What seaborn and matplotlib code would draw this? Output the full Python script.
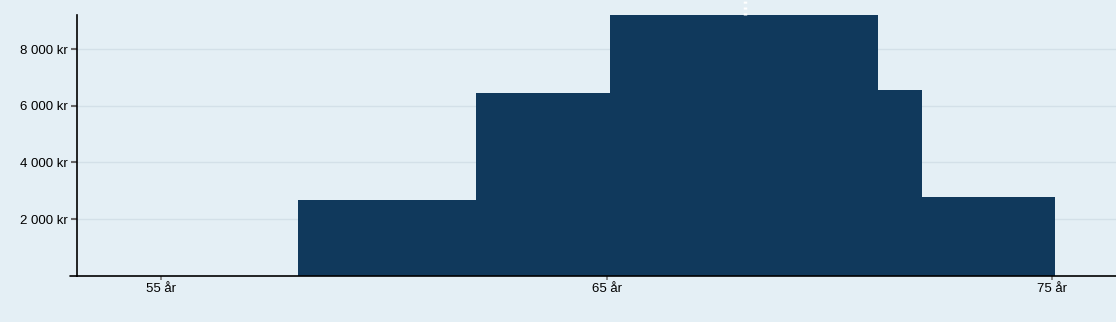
import matplotlib
matplotlib.use("Agg")
import matplotlib.pyplot as plt
import seaborn as sns
import numpy as np
import pandas as pd

# Data: age brackets (bin edges, years) and amount (kr) per bracket
bin_edges = [58.07, 62.06, 65.07, 71.1, 72.08, 75.07]
amounts = [2670, 6460, 9210, 6560, 2780]
x_ticks = [55, 65, 75]
x_tick_labels = ["55 år", "65 år", "75 år"]
y_ticks = [2000, 4000, 6000, 8000]
y_tick_labels = ["2 000 kr", "4 000 kr", "6 000 kr", "8 000 kr"]
marker_age = 68.1

bg = "#e4eff5"
bar_color = "#10395c"

sns.set_theme(style="white")
plt.rcParams["font.family"] = ["Liberation Sans", "DejaVu Sans"]

mids = [(a + b) / 2 for a, b in zip(bin_edges[:-1], bin_edges[1:])]
df = pd.DataFrame({"age": mids, "amount": amounts})

fig = plt.figure(figsize=(11.16, 3.22), dpi=100, facecolor=bg)
ax = fig.add_axes([76.7 / 1116, 1 - 275.6 / 322, 1 - 76.7 / 1116, (275.6 - 15) / 322])
ax.set_facecolor(bg)

sns.histplot(data=df, x="age", weights="amount", bins=bin_edges, stat="count",
             color=bar_color, alpha=1, linewidth=0, edgecolor=bar_color, ax=ax, zorder=2)

ax.set_xlim(53.1, 76.44)
ax.set_ylim(0, 9210)
ax.set_xlabel("")
ax.set_ylabel("")

ax.set_yticks(y_ticks)
ax.set_yticklabels(y_tick_labels, fontsize=9.5, color="black")
ax.set_xticks(x_ticks)
ax.set_xticklabels(x_tick_labels, fontsize=9.5, color="black")

ax.yaxis.grid(True, color="#d3e0e8", linewidth=1, zorder=0)
ax.xaxis.grid(False)
ax.set_axisbelow(True)

for side in ["top", "right"]:
    ax.spines[side].set_visible(False)
ax.spines["left"].set_color("black")
ax.spines["left"].set_linewidth(1.2)
ax.spines["bottom"].set_color("black")
ax.spines["bottom"].set_linewidth(1.2)

ax.tick_params(axis="y", left=True, length=4.5, width=1.5, color="#666666", pad=2)
ax.tick_params(axis="x", bottom=True, length=3, width=1.2, color="#777777", pad=2)

# extend bottom axis line slightly left of y axis
ax.plot([53.1 - 0.15, 53.1], [0, 0], color="black", lw=1.2, clip_on=False, zorder=5)

# white dotted marker above the plot
ax.plot([marker_age, marker_age], [9210, 9210 * 1.065], color="white", lw=2.5,
        linestyle=(0, (0.6, 1.1)), solid_capstyle="butt", dash_capstyle="butt",
        clip_on=False, zorder=5)

fig.savefig("out.png", dpi=100, facecolor=bg)
